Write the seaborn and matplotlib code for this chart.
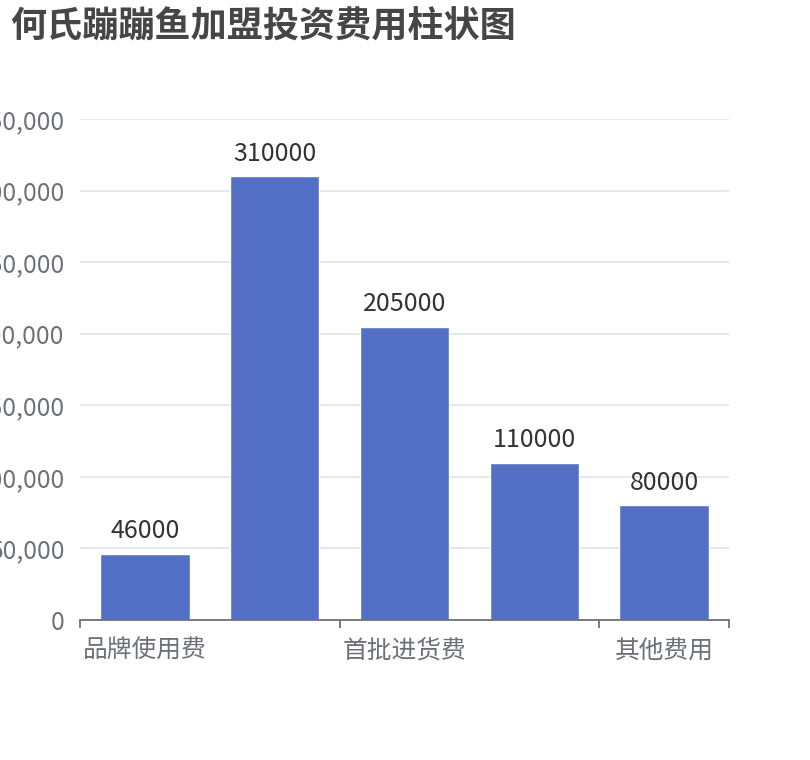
import matplotlib
matplotlib.use("Agg")
import matplotlib.pyplot as plt
import seaborn as sns
import pandas as pd
from matplotlib.ticker import FuncFormatter, FixedLocator

# chart data
categories = ["品牌使用费", "装修费用", "首批进货费", "设备费用", "其他费用"]
values = [46000, 310000, 205000, 110000, 80000]
shown_labels = [0, 2, 4]  # echarts hides every other category label
y_ticks = [0, 50000, 100000, 150000, 200000, 250000, 300000, 350000]

sns.set_theme(style="white")
plt.rcParams['font.family'] = ['Noto Sans CJK SC', 'DejaVu Sans']

df = pd.DataFrame({"category": categories, "value": values})

fig = plt.figure(figsize=(8.1, 7.6), dpi=100)
ax = fig.add_axes([80 / 810, 1 - 620 / 760, 649 / 810, 501 / 760])

sns.barplot(data=df, x="category", y="value", color="#5470c6",
            saturation=1, width=0.69, ax=ax)

# value labels above bars
ax.bar_label(ax.containers[0], labels=[str(v) for v in values],
             padding=7, fontsize=18, color="#333333")

ax.set_xlim(-0.5, len(categories) - 0.5)
ax.set_ylim(0, 350000)
ax.set_yticks(y_ticks)
ax.yaxis.set_major_formatter(FuncFormatter(lambda v, p: f"{int(v):,}"))
ax.grid(axis="y", color="#E0E6F1", linewidth=1.3)
ax.set_axisbelow(True)

# category labels only at every other bar, ticks at the bands' edges
ax.set_xticks(shown_labels)
ax.set_xticklabels([categories[i] for i in shown_labels])
ax.xaxis.set_minor_locator(FixedLocator([-0.5, 1.5, 3.5, 4.5]))
ax.tick_params(axis="x", which="major", length=0, pad=13,
               labelsize=17.8, labelcolor="#6E7079")
ax.tick_params(axis="x", which="minor", length=6, width=1.3,
               color="#6E7079", direction="out", bottom=True)
ax.tick_params(axis="y", length=0, pad=11, labelsize=17.8,
               labelcolor="#6E7079")

for side in ["top", "right", "left"]:
    ax.spines[side].set_visible(False)
ax.spines["bottom"].set_color("#6E7079")
ax.spines["bottom"].set_linewidth(1.3)

ax.set_xlabel("")
ax.set_ylabel("")

fig.text(10 / 810, 1 - 9 / 760, "何氏蹦蹦鱼加盟投资费用柱状图",
         ha="left", va="top", fontsize=26, fontweight="bold",
         color="#464646")

fig.savefig("out.png", dpi=100)
